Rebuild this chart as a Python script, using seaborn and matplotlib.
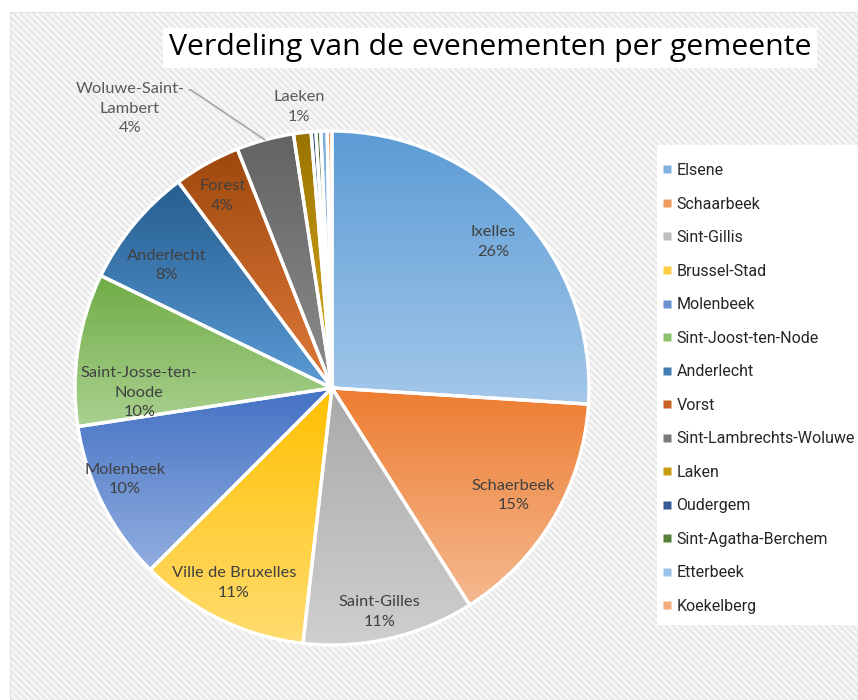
import numpy as np
import seaborn as sns
import matplotlib.pyplot as plt
from matplotlib.colors import LinearSegmentedColormap
from matplotlib.lines import Line2D
from matplotlib.patches import Rectangle

# slice data (percent of events per municipality)
slice_names = ["Ixelles", "Schaerbeek", "Saint-Gilles", "Ville de Bruxelles", "Molenbeek",
               "Saint-Josse-ten-\nNoode", "Anderlecht", "Forest", "Woluwe-Saint-\nLambert",
               "Laeken", "Auderghem", "Berchem-Sainte-Agathe", "Etterbeek", "Koekelberg"]
legend_names = ["Elsene", "Schaarbeek", "Sint-Gillis", "Brussel-Stad", "Molenbeek",
                "Sint-Joost-ten-Node", "Anderlecht", "Vorst", "Sint-Lambrechts-Woluwe",
                "Laken", "Oudergem", "Sint-Agatha-Berchem", "Etterbeek", "Koekelberg"]
values = [26.0, 15.0, 10.8, 10.7, 10.1, 9.6, 7.6, 4.2, 3.6, 1.1, 0.3, 0.3, 0.4, 0.3]
show_label = [True] * 10 + [False] * 4

# gradient colours: top (dark) -> bottom (light)
top_colors = ["#5B9BD5", "#ED7D31", "#A9A9A9", "#FFC000", "#4472C4", "#70AD47", "#255E91",
              "#9E480E", "#636363", "#997300", "#264478", "#43682B", "#7CAFDD", "#F1975A"]
bottom_colors = ["#A4C8EA", "#F5B990", "#CFCFCF", "#FFDC70", "#93AEE0", "#AAD190", "#5B9BD5",
                 "#E07A3A", "#8C8C8C", "#E0AE20", "#4C6EAF", "#6A9A4A", "#B4D2EE", "#F6C09C"]
legend_colors = ["#7EB1E0", "#F19A5E", "#BDBDBD", "#FFCE40", "#6C90D2", "#8DC06A", "#3F7DB3",
                 "#C76124", "#7A7A7A", "#C99A10", "#385A94", "#57813A", "#98C1E6", "#F3AB7B"]

# label placement inside slices (radius fraction, angle shift in degrees)
label_r = [0.845, 0.82, 0.89, 0.85, 0.88, 0.75, 0.80, 0.86, 0.0, 1.10]
label_shift = [-1, 0, -1, -1, -3, 10, 3, 0.6, 0, 0]

sns.set_style("white")
plt.rcParams["font.family"] = ["Lato", "DejaVu Sans"]

W, H = 858, 700
fig = plt.figure(figsize=(W / 100, H / 100), dpi=100, facecolor="white")

# hatched chart area background
bg = Rectangle((10 / W, 0), 1 - 10 / W, 1 - 12 / H, transform=fig.transFigure,
               facecolor="#f6f6f6", edgecolor="#e2e2e2", hatch="\\\\\\\\\\", linewidth=0.8,
               zorder=-2)
fig.patches.append(bg)
# white legend box
lg_bg = Rectangle((657 / W, 1 - 625 / H), (W - 657) / W, 480 / H, transform=fig.transFigure,
                  facecolor="white", edgecolor="none", zorder=-1)
fig.patches.append(lg_bg)

R_PX = 257
lim = 1.2
size = 2 * lim * R_PX
ax = fig.add_axes([(332 - size / 2) / W, (312 - size / 2) / H, size / W, size / H])
ax.set_facecolor("none")

wedges, _ = ax.pie(values, startangle=90, counterclock=False, colors=legend_colors,
                   wedgeprops=dict(edgecolor="white", linewidth=2.4))

total = sum(values)
for i, w in enumerate(wedges):
    ext = w.get_path().get_extents()
    cmap = LinearSegmentedColormap.from_list(f"g{i}", [bottom_colors[i], top_colors[i]])
    grad = np.linspace(0, 1, 256).reshape(-1, 1)
    im = ax.imshow(grad, cmap=cmap, origin="lower", aspect="auto",
                   extent=[ext.x0, ext.x1, ext.y0, ext.y1], zorder=1, interpolation="bilinear")
    im.set_clip_path(w)
    w.set_facecolor("none")
    w.set_zorder(2)

    if not show_label[i]:
        continue
    pct = values[i] / total * 100
    txt = f"{slice_names[i]}\n{pct:.0f}%"
    mid = np.deg2rad((w.theta1 + w.theta2) / 2)
    if slice_names[i].startswith("Woluwe"):
        ax.annotate(txt, xy=(np.cos(mid), np.sin(mid)), xytext=(-0.786, 1.086),
                    ha="center", va="center", fontsize=11.8, color="#595959", linespacing=1.5,
                    arrowprops=dict(arrowstyle="-", color="#a6a6a6", lw=1.2,
                                    connectionstyle="angle,angleA=0,angleB=146,rad=0",
                                    relpos=(1.0, 0.86), shrinkA=1, shrinkB=0))
        continue
    a = mid + np.deg2rad(label_shift[i])
    color = "#595959" if label_r[i] > 1 else "#404040"
    ax.text(label_r[i] * np.cos(a), label_r[i] * np.sin(a), txt, ha="center", va="center",
            fontsize=11.8, color=color, linespacing=1.5, zorder=5)

ax.set_xlim(-lim, lim)
ax.set_ylim(-lim, lim)
ax.set_aspect("equal")
ax.axis("off")

fig.text(490 / W, 1 - 48 / H, "Verdeling van de evenementen per gemeente",
         ha="center", va="center", fontsize=21.8, family=["Open Sans", "DejaVu Sans"],
         color="black", bbox=dict(facecolor="white", edgecolor="none", pad=4))

handles = [Line2D([], [], marker="s", linestyle="none", markersize=5.5,
                  markerfacecolor=c, markeredgecolor="none") for c in legend_colors]
leg = fig.legend(handles, legend_names, loc="upper left",
                 bbox_to_anchor=(663 / W, 1 - 163 / H), frameon=False,
                 prop=dict(family=["Roboto", "DejaVu Sans"], size=11.5),
                 labelspacing=1.16, handlelength=0.55, handletextpad=0.3,
                 borderpad=0, borderaxespad=0)

fig.savefig("out.png", dpi=100, facecolor="white")
